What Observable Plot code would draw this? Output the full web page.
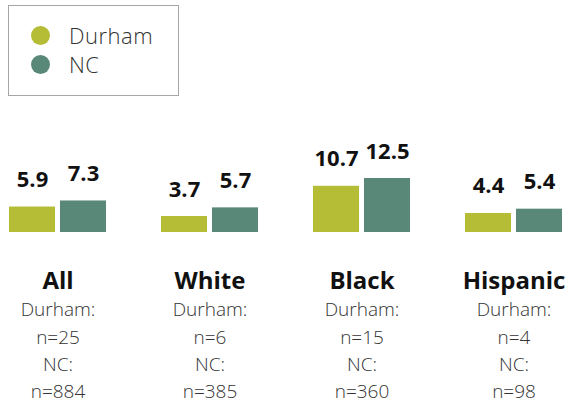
<!DOCTYPE html>
<html>
<head>
<meta charset="utf-8">
<script src="https://cdn.jsdelivr.net/npm/d3@7"></script>
<script src="https://cdn.jsdelivr.net/npm/@observablehq/plot@0.6"></script>
<style>
  html, body { margin: 0; padding: 0; background: #fff; }
  body { width: 572px; height: 408px; overflow: hidden; font-family: "Open Sans", sans-serif; }
  #legend { position: relative; height: 100px; }
  #legend .box { position: absolute; left: 8px; top: 5px; border: 1px solid #a6a6a6; box-sizing: border-box; width: 171px; height: 91px; }
  #legend .item { position: absolute; left: 31px; display: flex; align-items: center; font-size: 22px; font-weight: 300; color: #333; letter-spacing: 0.5px; line-height: 1; }
  #legend .dot { width: 19px; height: 19px; border-radius: 50%; margin-right: 19px; }
  #chart svg { display: block; }
</style>
</head>
<body>
<div id="legend"><div class="box"></div></div>
<div id="chart"></div>
<script>
const categories = ["All", "White", "Black", "Hispanic"];
const series = ["Durham", "NC"];
const seriesColors = ["#b4bd35", "#598878"];
const durhamValues = [5.9, 3.7, 10.7, 4.4];
const ncValues = [7.3, 5.7, 12.5, 5.4];
const durhamN = [25, 6, 15, 4];
const ncN = [884, 385, 360, 98];

// legend
const legend = document.querySelector("#legend");
series.forEach((s, i) => {
  const item = document.createElement("div");
  item.className = "item";
  item.style.top = (i === 0 ? 24 : 53) + "px";
  const dot = document.createElement("span");
  dot.className = "dot";
  dot.style.background = seriesColors[i];
  const label = document.createElement("span");
  label.textContent = s;
  item.appendChild(dot);
  item.appendChild(label);
  legend.appendChild(item);
});

const data = categories.flatMap((c, i) => [
  {category: c, series: "Durham", value: durhamValues[i]},
  {category: c, series: "NC", value: ncValues[i]}
]);
const labels = categories.map((c, i) => ({category: c, dn: durhamN[i], nn: ncN[i]}));

const sub = {fx: "category", frameAnchor: "bottom", lineAnchor: "bottom", fontSize: 19, fontWeight: 300, fill: "#333"};

const chart = Plot.plot({
  width: 572,
  height: 308,
  marginLeft: 9,
  marginRight: 10,
  marginTop: 78,
  marginBottom: 176,
  style: {fontFamily: "'Open Sans', sans-serif", background: "#fff"},
  fx: {domain: categories, paddingInner: 0.362, paddingOuter: 0, axis: null, label: null},
  x: {domain: series, paddingInner: 0.1, paddingOuter: 0, axis: null},
  y: {domain: [0, 12.5], axis: null},
  color: {domain: series, range: seriesColors},
  marks: [
    Plot.barY(data, {fx: "category", x: "series", y: "value", fill: "series"}),
    Plot.text(data, {fx: "category", x: "series", y: "value", text: d => d.value.toFixed(1),
      dy: -20, lineAnchor: "bottom", fontSize: 22, fontWeight: 700, fill: "#111"}),
    Plot.text(labels, {fx: "category", frameAnchor: "bottom", lineAnchor: "bottom", text: "category",
      dy: 56, fontSize: 24, fontWeight: 700, fill: "#111"}),
    Plot.text(labels, {...sub, text: d => "Durham:", dy: 83}),
    Plot.text(labels, {...sub, text: d => "n=" + d.dn, dy: 111}),
    Plot.text(labels, {...sub, text: d => "NC:", dy: 138}),
    Plot.text(labels, {...sub, text: d => "n=" + d.nn, dy: 165})
  ]
});
document.querySelector("#chart").appendChild(chart);
</script>
</body>
</html>
